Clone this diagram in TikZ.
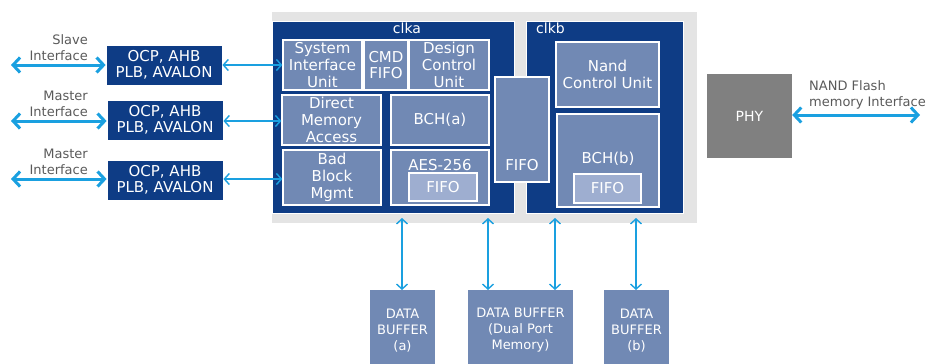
\documentclass[tikz,border=0pt]{standalone}
\usepackage{fontspec}
\setmainfont{DejaVu Sans}
\usetikzlibrary{arrows.meta}
\definecolor{dblue}{HTML}{0E3C85}
\definecolor{mblue}{HTML}{7189B4}
\definecolor{lblue}{HTML}{9EAED0}
\definecolor{bggray}{HTML}{E4E4E4}
\definecolor{arrowc}{HTML}{1AA0E0}
\definecolor{txtgray}{HTML}{5A5A5A}
\definecolor{phygray}{HTML}{808080}
\tikzset{
  x=1pt, y=-1pt,
  dbox/.style={fill=dblue, draw=white, line width=0.8pt, text=white, align=center, inner sep=0pt,
    font=\fontsize{15}{16.5}\selectfont},
  ibox/.style={fill=mblue, draw=white, line width=1.2pt, text=white, align=center, inner sep=0pt,
    font=\fontsize{15}{16.8}\selectfont},
  fbox/.style={fill=lblue, draw=white, line width=1.2pt, text=white, align=center, inner sep=0pt,
    font=\fontsize{15}{16.8}\selectfont},
  bufbox/.style={fill=mblue, text=white, align=center, inner sep=0pt, anchor=north,
    font=\fontsize{13}{16}\selectfont},
  lbl/.style={text=txtgray, align=right, font=\fontsize{13}{16}\selectfont, inner sep=0pt},
  thick arrow/.style={draw=arrowc, line width=3pt,
    {Straight Barb[length=7pt,width=15pt]}-{Straight Barb[length=7pt,width=15pt]}},
  thin arrow/.style={draw=arrowc, line width=1.4pt,
    {Straight Barb[length=5pt,width=11pt]}-{Straight Barb[length=5pt,width=11pt]}},
}
\begin{document}
\begin{tikzpicture}
\useasboundingbox (0,0) rectangle (940,364);
% background
\fill[bggray] (272,12) rectangle (697,223);
\node[dbox, minimum width=242pt, minimum height=192pt] (clka) at (393,117) {};
\node[dbox, minimum width=157pt, minimum height=192pt] (clkb) at (604.5,117) {};
\node[text=white, font=\fontsize{14}{16}\selectfont, inner sep=0pt] (clkal) at (407,28) {clka};
\node[text=white, font=\fontsize{14}{16}\selectfont, inner sep=0pt, anchor=west] (clkbl) at (536,28) {clkb};
% clka contents
\node[ibox, minimum width=79pt, minimum height=50pt] (siu) at (322.5,65) {System\\Interface\\Unit};
\node[ibox, minimum width=44pt, minimum height=50pt] (cmd) at (386,65) {CMD\\FIFO};
\node[ibox, minimum width=80pt, minimum height=50pt] (dcu) at (449,65) {Design\\Control\\Unit};
\node[ibox, minimum width=99pt, minimum height=50pt] (dma) at (331.5,120) {Direct\\Memory\\Access};
\node[ibox, minimum width=98pt, minimum height=50pt] (bcha) at (440,120) {BCH(a)};
\node[ibox, minimum width=98pt, minimum height=55pt] (bbm) at (332,177.5) {Bad\\Block\\Mgmt};
\node[ibox, minimum width=98pt, minimum height=55pt] (aes) at (440,177.5) {};
\node[text=white, font=\fontsize{15}{16.8}\selectfont, inner sep=0pt] (aesl) at (440,165) {AES-256};
\node[fbox, minimum width=68pt, minimum height=28pt] (fifoa) at (443,187) {FIFO};
% middle fifo
\node[ibox, minimum width=54pt, minimum height=105pt] (fifom) at (522,129.5) {};
\node[text=white, font=\fontsize{15}{16.8}\selectfont, inner sep=0pt] (fifoml) at (522,165) {FIFO};
% clkb contents
\node[ibox, minimum width=103pt, minimum height=65pt] (ncu) at (607.5,74.5) {Nand\\Control Unit};
\node[ibox, minimum width=102pt, minimum height=93pt] (bchb) at (608,160.5) {};
\node[text=white, font=\fontsize{15}{16.8}\selectfont, inner sep=0pt] (bchbl) at (608,159) {BCH(b)};
\node[fbox, minimum width=67pt, minimum height=29pt] (fifob) at (607.5,188.5) {FIFO};
% left interface boxes
\node[dbox, minimum width=116pt, minimum height=40pt] (if1) at (164,65) {OCP, AHB\\PLB, AVALON};
\node[dbox, minimum width=116pt, minimum height=40pt] (if2) at (165,120) {OCP, AHB\\PLB, AVALON};
\node[dbox, minimum width=116pt, minimum height=40pt] (if3) at (165,180) {OCP, AHB\\PLB, AVALON};
\coordinate (l1) at (11,65);
\coordinate (l2) at (11,121);
\coordinate (l3) at (11,179);
\draw[thick arrow] (l1) -- (if1.west |- l1);
\draw[thick arrow] (l2) -- (if2.west |- l2);
\draw[thick arrow] (l3) -- (if3.west |- l3);
\node[lbl, anchor=east] (lab1) at (88,48) {Slave\\Interface};
\node[lbl, anchor=east] (lab2) at (88,104) {Master\\Interface};
\node[lbl, anchor=east] (lab3) at (88,162) {Master\\Interface};
\draw[thin arrow] (if1.east |- 0,65) -- (siu.west |- 0,65);
\draw[thin arrow] (if2.east |- 0,121) -- (dma.west |- 0,121);
\draw[thin arrow] (if3.east |- 0,179) -- (bbm.west |- 0,179);
% PHY
\node[fill=phygray, text=white, minimum width=85pt, minimum height=84pt, inner sep=0pt,
  font=\fontsize{14}{16}\selectfont] (phy) at (749.5,116) {PHY};
\coordinate (nandend) at (920,115);
\draw[thick arrow] (phy.east |- nandend) -- (nandend);
\node[lbl, align=left, anchor=west] (nandl) at (809,95) {NAND Flash\\memory Interface};
% data buffers
\node[bufbox, minimum width=65pt, minimum height=80pt] (dba) at (402.5,290) {DATA\\BUFFER\\(a)};
\node[bufbox, minimum width=105pt, minimum height=80pt] (dbd) at (520.5,290) {DATA BUFFER\\(Dual Port\\Memory)};
\node[bufbox, minimum width=65pt, minimum height=80pt] (dbb) at (636.5,290) {DATA\\BUFFER\\(b)};
\coordinate (v1) at (402,218);
\coordinate (v2) at (488,218);
\coordinate (v3) at (555,218);
\coordinate (v4) at (636,218);
\draw[thin arrow] (v1) -- (v1 |- dba.north);
\draw[thin arrow] (v2) -- (v2 |- dbd.north);
\draw[thin arrow] (v3) -- (v3 |- dbd.north);
\draw[thin arrow] (v4) -- (v4 |- dbb.north);
\end{tikzpicture}
\end{document}
